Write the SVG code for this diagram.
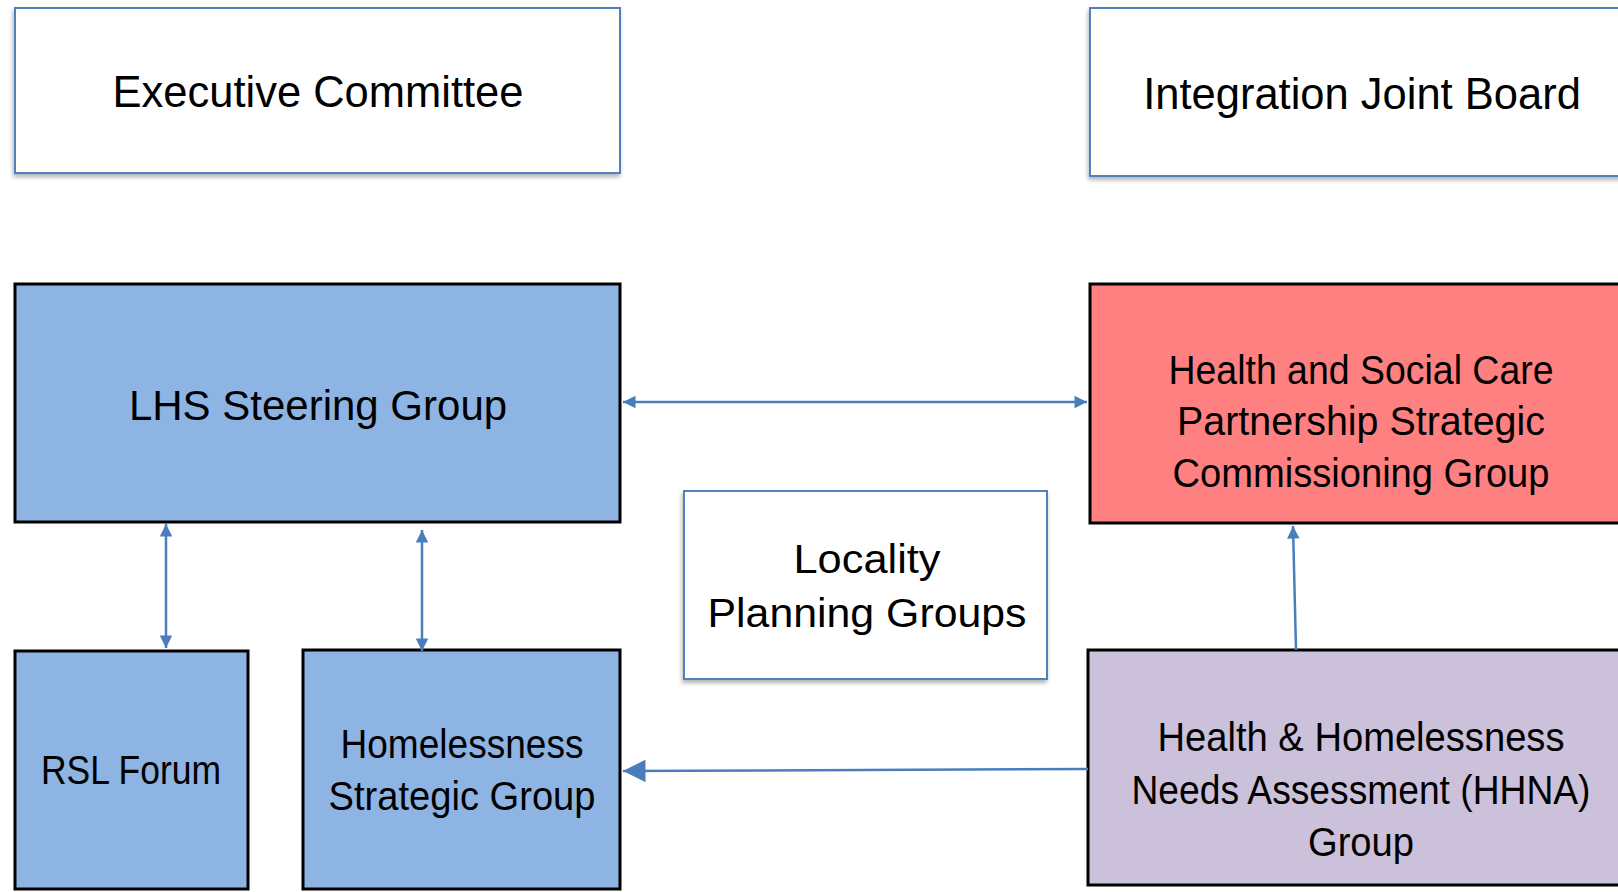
<svg xmlns="http://www.w3.org/2000/svg" width="1618" height="892" viewBox="0 0 1618 892">
<style>
.t{font-family:"Liberation Sans",Arial,sans-serif;fill:#000;text-anchor:middle}
.c{font-size:43.5px}
.d{font-size:41px}
.a{font-size:42px}
.w{fill:#fff;stroke:#4F81BD;stroke-width:2}
.f{stroke:#000;stroke-width:3}
.ln{stroke:#4A7EBB;stroke-width:2.5;fill:none}
</style>
<defs>
<filter id="sh" x="-5%" y="-5%" width="110%" height="115%">
<feDropShadow dx="-1" dy="3" stdDeviation="2" flood-color="#000" flood-opacity="0.3"/>
</filter>
<marker id="ah" viewBox="0 0 10 10" refX="10" refY="5" markerWidth="6" markerHeight="5" markerUnits="strokeWidth" orient="auto-start-reverse">
<path d="M0,0 L10,5 L0,10 z" fill="#4A7EBB"/>
</marker>
<marker id="ahb" viewBox="0 0 10 10" refX="10" refY="5" markerWidth="10" markerHeight="9" markerUnits="strokeWidth" orient="auto">
<path d="M0,0 L10,5 L0,10 z" fill="#4A7EBB"/>
</marker>
</defs>
<rect width="1618" height="892" fill="#fff"/>

<g id="exec">
<rect class="w" x="15" y="8" width="605" height="165" filter="url(#sh)"/>
<text class="t c" x="318" y="107">Executive Committee</text>
</g>
<g id="ijb">
<rect class="w" x="1090" y="8" width="560" height="168" filter="url(#sh)"/>
<text class="t c" x="1362" y="109">Integration Joint Board</text>
</g>
<g id="lhs">
<rect class="f" x="15" y="284" width="605" height="238" fill="#8EB4E3"/>
<text class="t a" x="318" y="420">LHS Steering Group</text>
</g>
<g id="hscp">
<rect class="f" x="1090" y="284" width="560" height="239" fill="#FF8080"/>
<text class="t d" x="1361" y="384" textLength="385" lengthAdjust="spacingAndGlyphs">Health and Social Care</text>
<text class="t d" x="1361" y="435" textLength="368" lengthAdjust="spacingAndGlyphs">Partnership Strategic</text>
<text class="t d" x="1361" y="487" textLength="377" lengthAdjust="spacingAndGlyphs">Commissioning Group</text>
</g>
<g id="locality">
<rect class="w" x="684" y="491" width="363" height="188" filter="url(#sh)"/>
<text class="t d" x="867" y="573" textLength="147" lengthAdjust="spacingAndGlyphs">Locality</text>
<text class="t d" x="867" y="627" textLength="319" lengthAdjust="spacingAndGlyphs">Planning Groups</text>
</g>
<g id="rsl">
<rect class="f" x="15" y="651" width="233" height="238" fill="#8EB4E3"/>
<text class="t d" x="131" y="784" textLength="180" lengthAdjust="spacingAndGlyphs">RSL Forum</text>
</g>
<g id="hsg">
<rect class="f" x="303" y="650" width="317" height="239" fill="#8EB4E3"/>
<text class="t d" x="462" y="758" textLength="243" lengthAdjust="spacingAndGlyphs">Homelessness</text>
<text class="t d" x="462" y="810" textLength="267" lengthAdjust="spacingAndGlyphs">Strategic Group</text>
</g>
<g id="hhna">
<rect class="f" x="1088" y="650" width="560" height="235" fill="#CCC1DA"/>
<text class="t d" x="1361" y="751" textLength="407" lengthAdjust="spacingAndGlyphs">Health &amp; Homelessness</text>
<text class="t d" x="1361" y="804" textLength="459" lengthAdjust="spacingAndGlyphs">Needs Assessment (HHNA)</text>
<text class="t d" x="1361" y="856" textLength="106" lengthAdjust="spacingAndGlyphs">Group</text>
</g>

<g id="connectors">
<line class="ln" x1="623" y1="402" x2="1087" y2="402" marker-start="url(#ah)" marker-end="url(#ah)"/>
<line class="ln" x1="166" y1="524" x2="166" y2="648" marker-start="url(#ah)" marker-end="url(#ah)"/>
<line class="ln" x1="422" y1="530" x2="422" y2="651" marker-start="url(#ah)" marker-end="url(#ah)"/>
<line class="ln" x1="1296" y1="650" x2="1293" y2="526" marker-end="url(#ah)"/>
<line class="ln" x1="1088" y1="769" x2="623" y2="771" marker-end="url(#ahb)"/>
</g>
</svg>
